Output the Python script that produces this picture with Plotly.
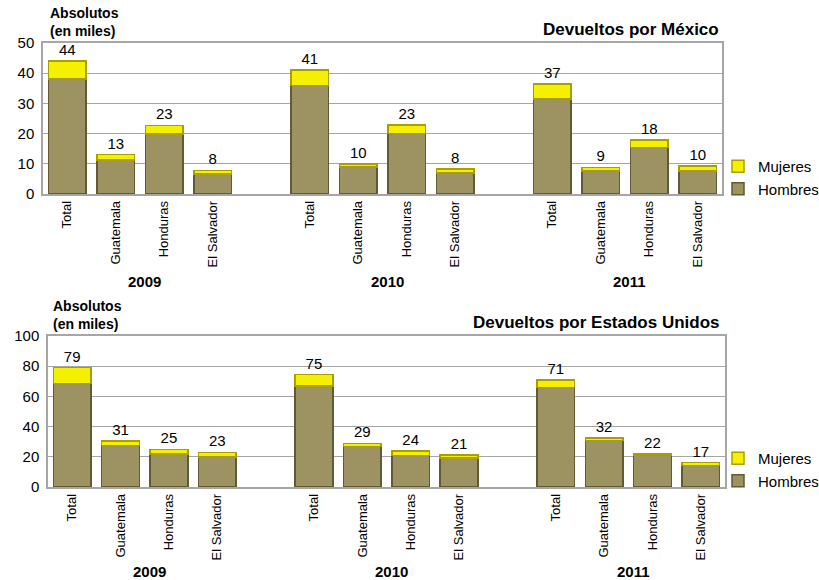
import plotly.graph_objects as go

# ---- data ----
countries = ["Total", "Guatemala", "Honduras", "El Salvador"]
years = ["2009", "2010", "2011"]

mx_hombres = [38, 11.3, 19.8, 6.6,   36, 9.0, 20, 7,    31.5, 7.7, 15.4, 7.7]
mx_mujeres = [6, 1.7, 2.9, 1.2,      5, 1.0, 2.8, 1.2,  4.9, 1.1, 2.4, 1.6]
mx_labels = ["44", "13", "23", "8", "41", "10", "23", "8", "37", "9", "18", "10"]

us_hombres = [68.7, 27.6, 21.9, 20.0,  66.9, 26.7, 21.0, 19.2,  66.0, 30.7, 20.8, 14.4]
us_mujeres = [10.3, 2.9, 3.1, 3.0,     7.5, 2.2, 2.8, 2.0,      4.9, 1.9, 1.2, 1.8]
us_labels = ["79", "31", "25", "23", "75", "29", "24", "21", "71", "32", "22", "17"]

# category slot positions (one empty slot between year groups)
xpos = [0, 1, 2, 3, 5, 6, 7, 8, 10, 11, 12, 13]
ticktext = countries * 3
group_centers = [1.5, 6.5, 11.5]

FONT = "Liberation Sans, Arial, sans-serif"
HOM = "#9c9262"
HOM_LINE = "#625a30"
MUJ = "#f4f000"
MUJ_LINE = "#a89e00"

fig = go.Figure()

def add_panel(hombres, mujeres, labels, xa, ya, leg):
    fig.add_trace(go.Bar(
        x=xpos, y=hombres, name="Hombres", xaxis=xa, yaxis=ya, legend=leg,
        marker=dict(color=HOM, line=dict(color=HOM_LINE, width=1.5)),
        hoverinfo="skip"))
    fig.add_trace(go.Bar(
        x=xpos, y=mujeres, name="Mujeres", xaxis=xa, yaxis=ya, legend=leg,
        marker=dict(color=MUJ, line=dict(color=MUJ_LINE, width=1.5)),
        text=labels, textposition="outside", cliponaxis=False,
        textfont=dict(family=FONT, size=15, color="#000000"),
        hoverinfo="skip"))

add_panel(mx_hombres, mx_mujeres, mx_labels, "x", "y", "legend")
add_panel(us_hombres, us_mujeres, us_labels, "x2", "y2", "legend2")

W, H = 819, 580
def px_x(p):
    return p / W
def px_y(p):
    return 1 - p / H

xaxis_common = dict(
    range=[-0.5, 13.5], tickmode="array", tickvals=xpos, ticktext=ticktext,
    tickangle=-90, tickfont=dict(family=FONT, size=13, color="#000000"),
    showgrid=False, showline=True, linecolor="#a6a6a6", linewidth=1.5,
    mirror=True, ticks="", zeroline=False, fixedrange=True, automargin=False)
yaxis_common = dict(
    showgrid=True, gridcolor="#a6a6a6", gridwidth=1,
    showline=True, linecolor="#a6a6a6", linewidth=1.5, mirror=True,
    ticks="", zeroline=False, tickfont=dict(family=FONT, size=15, color="#000000"),
    fixedrange=True, automargin=False, ticklabelstandoff=4)

legend_common = dict(
    font=dict(family=FONT, size=15, color="#000000"), traceorder="reversed",
    bgcolor="rgba(0,0,0,0)", xanchor="left", yanchor="top",
    itemwidth=30, tracegroupgap=0)

fig.update_layout(
    width=W, height=H, margin=dict(l=0, r=0, t=0, b=0, autoexpand=False),
    paper_bgcolor="white", plot_bgcolor="white",
    barmode="stack", bargap=0.22,
    font=dict(family=FONT, color="#000000"),
    xaxis=dict(domain=[px_x(43), px_x(722)], anchor="y", **xaxis_common),
    yaxis=dict(domain=[px_y(194), px_y(43)], anchor="x", range=[0, 50],
               dtick=10, **yaxis_common),
    xaxis2=dict(domain=[px_x(48), px_x(725)], anchor="y2", **xaxis_common),
    yaxis2=dict(domain=[px_y(487), px_y(336)], anchor="x2", range=[0, 100],
                dtick=20, **yaxis_common),
    legend=dict(x=px_x(718), y=px_y(150), **legend_common),
    legend2=dict(x=px_x(718), y=px_y(442), **legend_common),
    showlegend=True,
)

ann = []
# y-axis unit titles
ann.append(dict(text="<b>Absolutos<br>(en miles)</b>", xref="paper", yref="paper",
                x=px_x(48), y=px_y(41), xanchor="left", yanchor="bottom", align="left",
                showarrow=False, font=dict(family=FONT, size=14)))
ann.append(dict(text="<b>Absolutos<br>(en miles)</b>", xref="paper", yref="paper",
                x=px_x(51), y=px_y(334), xanchor="left", yanchor="bottom", align="left",
                showarrow=False, font=dict(family=FONT, size=14)))
# chart titles
ann.append(dict(text="<b>Devueltos por México</b>", xref="paper", yref="paper",
                x=px_x(721), y=px_y(29), xanchor="right", yanchor="middle",
                showarrow=False, font=dict(family=FONT, size=17)))
ann.append(dict(text="<b>Devueltos por Estados Unidos</b>", xref="paper", yref="paper",
                x=px_x(722), y=px_y(322), xanchor="right", yanchor="middle",
                showarrow=False, font=dict(family=FONT, size=17)))
# year group labels
for c, yr in zip(group_centers, years):
    ann.append(dict(text="<b>%s</b>" % yr, xref="x", yref="paper", x=c + 0.1, y=px_y(281),
                    xanchor="center", yanchor="middle", showarrow=False,
                    font=dict(family=FONT, size=15)))
    ann.append(dict(text="<b>%s</b>" % yr, xref="x2", yref="paper", x=c + 0.1, y=px_y(571),
                    xanchor="center", yanchor="middle", showarrow=False,
                    font=dict(family=FONT, size=15)))
fig.update_layout(annotations=ann)

fig.write_html("out.html", config={"displayModeBar": False},
               post_script="document.body.style.margin='0';document.body.style.overflow='hidden';")
